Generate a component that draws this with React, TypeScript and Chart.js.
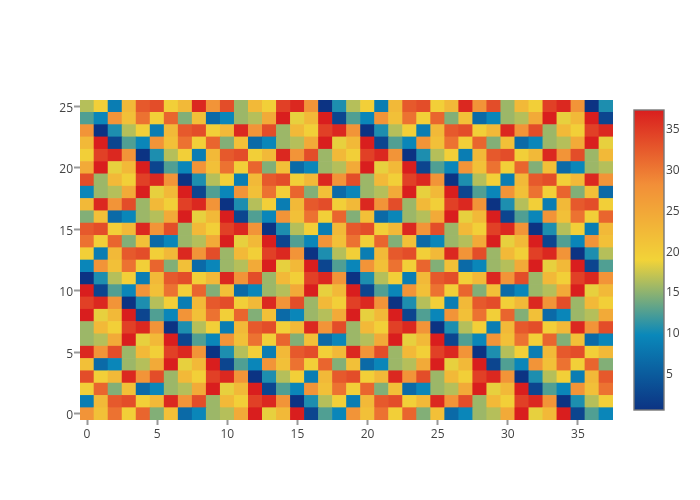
import React, { useEffect, useRef } from "react";
import { Chart, registerables } from "chart.js";

Chart.register(...registerables);

const columns = Array.from({ length: 38 }, (_, i) => String(i));
const xTickValues = [0, 5, 10, 15, 20, 25, 30, 35];
const yTickValues = [0, 5, 10, 15, 20, 25];
const barTickValues = [5, 10, 15, 20, 25, 30, 35];
const zMin = 0.55;
const zMax = 37.3;
const colorStops: [number, number, number][] = [
  [12, 51, 131],
  [10, 136, 186],
  [242, 211, 56],
  [242, 143, 56],
  [217, 30, 30],
];

// rows bottom (y = 0) to top (y = 25)
const z: number[][] = [
  [27.5,21.5,30.5,19.5,31.5,14.5,21.5,6.5,9.5,15.5,16.5,24.5,37.3,18.5,22.5,37.3,2.5,12.5,9.5,27.5,21.5,30.5,19.5,31.5,14.5,21.5,6.5,9.5,15.5,16.5,24.5,37.3,18.5,22.5,37.3,2.5,12.5,9.5],
  [8.5,22.5,32.5,33.5,19.5,22.5,36.5,27.5,33.5,15.5,22.5,19.5,34.5,36.5,27.5,0.6,10.5,16.5,19.5,8.5,22.5,32.5,33.5,19.5,22.5,36.5,27.5,33.5,15.5,22.5,19.5,34.5,36.5,27.5,0.6,10.5,16.5,19.5],
  [19.5,31.5,14.5,21.5,6.5,9.5,15.5,16.5,24.5,37.3,18.5,22.5,37.3,2.5,12.5,9.5,27.5,21.5,30.5,19.5,31.5,14.5,21.5,6.5,9.5,15.5,16.5,24.5,37.3,18.5,22.5,37.3,2.5,12.5,9.5,27.5,21.5,30.5],
  [33.5,19.5,22.5,36.5,27.5,33.5,15.5,22.5,19.5,34.5,36.5,27.5,0.6,10.5,16.5,19.5,8.5,22.5,32.5,33.5,19.5,22.5,36.5,27.5,33.5,15.5,22.5,19.5,34.5,36.5,27.5,0.6,10.5,16.5,19.5,8.5,22.5,32.5],
  [21.5,6.5,9.5,15.5,16.5,24.5,37.3,18.5,22.5,37.3,2.5,12.5,9.5,27.5,21.5,30.5,19.5,31.5,14.5,21.5,6.5,9.5,15.5,16.5,24.5,37.3,18.5,22.5,37.3,2.5,12.5,9.5,27.5,21.5,30.5,19.5,31.5,14.5],
  [36.5,27.5,33.5,15.5,22.5,19.5,34.5,36.5,27.5,0.6,10.5,16.5,19.5,8.5,22.5,32.5,33.5,19.5,22.5,36.5,27.5,33.5,15.5,22.5,19.5,34.5,36.5,27.5,0.6,10.5,16.5,19.5,8.5,22.5,32.5,33.5,19.5,22.5],
  [15.5,16.5,24.5,37.3,18.5,22.5,37.3,2.5,12.5,9.5,27.5,21.5,30.5,19.5,31.5,14.5,21.5,6.5,9.5,15.5,16.5,24.5,37.3,18.5,22.5,37.3,2.5,12.5,9.5,27.5,21.5,30.5,19.5,31.5,14.5,21.5,6.5,9.5],
  [15.5,22.5,19.5,34.5,36.5,27.5,0.6,10.5,16.5,19.5,8.5,22.5,32.5,33.5,19.5,22.5,36.5,27.5,33.5,15.5,22.5,19.5,34.5,36.5,27.5,0.6,10.5,16.5,19.5,8.5,22.5,32.5,33.5,19.5,22.5,36.5,27.5,33.5],
  [37.3,18.5,22.5,37.3,2.5,12.5,9.5,27.5,21.5,30.5,19.5,31.5,14.5,21.5,6.5,9.5,15.5,16.5,24.5,37.3,18.5,22.5,37.3,2.5,12.5,9.5,27.5,21.5,30.5,19.5,31.5,14.5,21.5,6.5,9.5,15.5,16.5,24.5],
  [34.5,36.5,27.5,0.6,10.5,16.5,19.5,8.5,22.5,32.5,33.5,19.5,22.5,36.5,27.5,33.5,15.5,22.5,19.5,34.5,36.5,27.5,0.6,10.5,16.5,19.5,8.5,22.5,32.5,33.5,19.5,22.5,36.5,27.5,33.5,15.5,22.5,19.5],
  [37.3,2.5,12.5,9.5,27.5,21.5,30.5,19.5,31.5,14.5,21.5,6.5,9.5,15.5,16.5,24.5,37.3,18.5,22.5,37.3,2.5,12.5,9.5,27.5,21.5,30.5,19.5,31.5,14.5,21.5,6.5,9.5,15.5,16.5,24.5,37.3,18.5,22.5],
  [0.6,10.5,16.5,19.5,8.5,22.5,32.5,33.5,19.5,22.5,36.5,27.5,33.5,15.5,22.5,19.5,34.5,36.5,27.5,0.6,10.5,16.5,19.5,8.5,22.5,32.5,33.5,19.5,22.5,36.5,27.5,33.5,15.5,22.5,19.5,34.5,36.5,27.5],
  [9.5,27.5,21.5,30.5,19.5,31.5,14.5,21.5,6.5,9.5,15.5,16.5,24.5,37.3,18.5,22.5,37.3,2.5,12.5,9.5,27.5,21.5,30.5,19.5,31.5,14.5,21.5,6.5,9.5,15.5,16.5,24.5,37.3,18.5,22.5,37.3,2.5,12.5],
  [19.5,8.5,22.5,32.5,33.5,19.5,22.5,36.5,27.5,33.5,15.5,22.5,19.5,34.5,36.5,27.5,0.6,10.5,16.5,19.5,8.5,22.5,32.5,33.5,19.5,22.5,36.5,27.5,33.5,15.5,22.5,19.5,34.5,36.5,27.5,0.6,10.5,16.5],
  [30.5,19.5,31.5,14.5,21.5,6.5,9.5,15.5,16.5,24.5,37.3,18.5,22.5,37.3,2.5,12.5,9.5,27.5,21.5,30.5,19.5,31.5,14.5,21.5,6.5,9.5,15.5,16.5,24.5,37.3,18.5,22.5,37.3,2.5,12.5,9.5,27.5,21.5],
  [32.5,33.5,19.5,22.5,36.5,27.5,33.5,15.5,22.5,19.5,34.5,36.5,27.5,0.6,10.5,16.5,19.5,8.5,22.5,32.5,33.5,19.5,22.5,36.5,27.5,33.5,15.5,22.5,19.5,34.5,36.5,27.5,0.6,10.5,16.5,19.5,8.5,22.5],
  [14.5,21.5,6.5,9.5,15.5,16.5,24.5,37.3,18.5,22.5,37.3,2.5,12.5,9.5,27.5,21.5,30.5,19.5,31.5,14.5,21.5,6.5,9.5,15.5,16.5,24.5,37.3,18.5,22.5,37.3,2.5,12.5,9.5,27.5,21.5,30.5,19.5,31.5],
  [22.5,36.5,27.5,33.5,15.5,22.5,19.5,34.5,36.5,27.5,0.6,10.5,16.5,19.5,8.5,22.5,32.5,33.5,19.5,22.5,36.5,27.5,33.5,15.5,22.5,19.5,34.5,36.5,27.5,0.6,10.5,16.5,19.5,8.5,22.5,32.5,33.5,19.5],
  [9.5,15.5,16.5,24.5,37.3,18.5,22.5,37.3,2.5,12.5,9.5,27.5,21.5,30.5,19.5,31.5,14.5,21.5,6.5,9.5,15.5,16.5,24.5,37.3,18.5,22.5,37.3,2.5,12.5,9.5,27.5,21.5,30.5,19.5,31.5,14.5,21.5,6.5],
  [33.5,15.5,22.5,19.5,34.5,36.5,27.5,0.6,10.5,16.5,19.5,8.5,22.5,32.5,33.5,19.5,22.5,36.5,27.5,33.5,15.5,22.5,19.5,34.5,36.5,27.5,0.6,10.5,16.5,19.5,8.5,22.5,32.5,33.5,19.5,22.5,36.5,27.5],
  [24.5,37.3,18.5,22.5,37.3,2.5,12.5,9.5,27.5,21.5,30.5,19.5,31.5,14.5,21.5,6.5,9.5,15.5,16.5,24.5,37.3,18.5,22.5,37.3,2.5,12.5,9.5,27.5,21.5,30.5,19.5,31.5,14.5,21.5,6.5,9.5,15.5,16.5],
  [19.5,34.5,36.5,27.5,0.6,10.5,16.5,19.5,8.5,22.5,32.5,33.5,19.5,22.5,36.5,27.5,33.5,15.5,22.5,19.5,34.5,36.5,27.5,0.6,10.5,16.5,19.5,8.5,22.5,32.5,33.5,19.5,22.5,36.5,27.5,33.5,15.5,22.5],
  [22.5,37.3,2.5,12.5,9.5,27.5,21.5,30.5,19.5,31.5,14.5,21.5,6.5,9.5,15.5,16.5,24.5,37.3,18.5,22.5,37.3,2.5,12.5,9.5,27.5,21.5,30.5,19.5,31.5,14.5,21.5,6.5,9.5,15.5,16.5,24.5,37.3,18.5],
  [27.5,0.6,10.5,16.5,19.5,8.5,22.5,32.5,33.5,19.5,22.5,36.5,27.5,33.5,15.5,22.5,19.5,34.5,36.5,27.5,0.6,10.5,16.5,19.5,8.5,22.5,32.5,33.5,19.5,22.5,36.5,27.5,33.5,15.5,22.5,19.5,34.5,36.5],
  [12.5,9.5,27.5,21.5,30.5,19.5,31.5,14.5,21.5,6.5,9.5,15.5,16.5,24.5,37.3,18.5,22.5,37.3,2.5,12.5,9.5,27.5,21.5,30.5,19.5,31.5,14.5,21.5,6.5,9.5,15.5,16.5,24.5,37.3,18.5,22.5,37.3,2.5],
  [16.5,19.5,8.5,22.5,32.5,33.5,19.5,22.5,36.5,27.5,33.5,15.5,22.5,19.5,34.5,36.5,27.5,0.6,10.5,16.5,19.5,8.5,22.5,32.5,33.5,19.5,22.5,36.5,27.5,33.5,15.5,22.5,19.5,34.5,36.5,27.5,0.6,10.5],
];

const FONT = "'Open Sans', sans-serif";
const TEXT = "#444444";

function colorFor(v: number): string {
  const t = Math.min(1, Math.max(0, (v - zMin) / (zMax - zMin))) * (colorStops.length - 1);
  const i = Math.min(colorStops.length - 2, Math.floor(t));
  const f = t - i;
  const a = colorStops[i];
  const b = colorStops[i + 1];
  return `rgb(${a.map((c, k) => Math.round(c + (b[k] - c) * f)).join(",")})`;
}

const nudgeLabels = {
  id: "nudgeLabels",
  beforeDraw(chart: Chart) {
    const items = (chart.scales.y as any).getLabelItems();
    items.forEach((item: any) => {
      item.options.translation = [item.options.translation[0], item.options.translation[1] + 2];
    });
  },
};

const colorbar = {
  id: "colorbar",
  afterDraw(chart: Chart) {
    const { ctx } = chart;
    const left = 634;
    const right = 664;
    const top = 110;
    const bottom = 410;
    const grad = ctx.createLinearGradient(0, bottom, 0, top);
    colorStops.forEach((c, i) => grad.addColorStop(i / (colorStops.length - 1), `rgb(${c.join(",")})`));
    ctx.save();
    ctx.fillStyle = grad;
    ctx.fillRect(left, top, right - left, bottom - top);
    ctx.strokeStyle = "#777777";
    ctx.lineWidth = 1.4;
    ctx.strokeRect(left, top, right - left, bottom - top);
    ctx.fillStyle = TEXT;
    ctx.font = `12px ${FONT}`;
    ctx.textAlign = "left";
    ctx.textBaseline = "middle";
    barTickValues.forEach((v) => {
      const y = bottom - ((v - zMin) / (zMax - zMin)) * (bottom - top);
      ctx.fillText(String(v), 666, y + 1);
    });
    ctx.restore();
  },
};

export default function App() {
  const ref = useRef<HTMLCanvasElement>(null);
  useEffect(() => {
    const chart = new Chart(ref.current!, {
      type: "bar",
      data: {
        labels: columns,
        datasets: z.map((row, y) => ({
          data: row.map(() => [y - 0.5, y + 0.5] as [number, number]),
          backgroundColor: row.map(colorFor),
          borderWidth: 0,
          grouped: false,
          barPercentage: 1,
          categoryPercentage: 1,
        })),
      },
      options: {
        responsive: false,
        animation: false,
        events: [],
        layout: { padding: { top: 100, right: 87, left: 0, bottom: 0 } },
        plugins: { legend: { display: false }, tooltip: { enabled: false }, title: { display: false } },
        scales: {
          x: {
            type: "category",
            offset: true,
            border: { display: false },
            grid: { display: true, offset: false, drawOnChartArea: false, drawTicks: true, tickLength: 5, tickColor: "#999999", tickWidth: 2 },
            ticks: { autoSkip: false, maxRotation: 0, color: TEXT, font: { family: FONT, size: 12 }, padding: 2 },
            afterBuildTicks: (s: any) => {
              s.ticks = xTickValues.map((value) => ({ value }));
            },
            afterFit: (s: any) => {
              s.height = 80;
            },
          },
          y: {
            type: "linear",
            min: -0.5,
            max: 25.5,
            border: { display: false },
            grid: { display: true, drawOnChartArea: false, drawTicks: true, tickLength: 6, tickColor: "#999999", tickWidth: 2 },
            ticks: { color: TEXT, font: { family: FONT, size: 12 }, padding: 1 },
            afterBuildTicks: (s: any) => {
              s.ticks = yTickValues.map((value) => ({ value }));
            },
            afterFit: (s: any) => {
              s.width = 80;
            },
          },
        },
      },
      plugins: [nudgeLabels, colorbar],
    } as any);
    return () => chart.destroy();
  }, []);
  return (
    <div style={{ position: "absolute", left: 0, top: 0, width: 700, height: 500 }}>
      <canvas ref={ref} width={700} height={500} style={{ display: "block" }} />
    </div>
  );
}
